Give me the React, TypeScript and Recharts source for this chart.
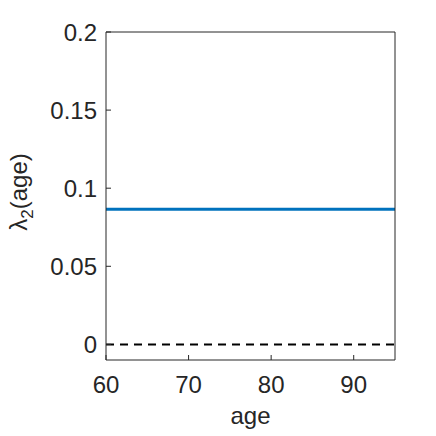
import React from "react";
import { LineChart, Line, XAxis, YAxis, Label } from "recharts";

const ages = [60, 95];
const lambda2 = [0.0865, 0.0865];
const zeroLine = [0, 0];

const xTicks = [60, 70, 80, 90];
const yTicks = [0, 0.05, 0.1, 0.15, 0.2];

const data = ages.map((age, i) => ({
  age,
  lambda2: lambda2[i],
  zero: zeroLine[i],
}));

const FONT = "'Liberation Sans', Arial, Helvetica, sans-serif";
const AXIS = "#262626";

const YLabel = (props: any) => {
  const vb = props.viewBox || {};
  const cx = 27;
  const cy = vb.y + vb.height / 2 - 4;
  return (
    <text
      x={cx}
      y={cy}
      transform={`rotate(-90, ${cx}, ${cy})`}
      textAnchor="middle"
      fontFamily={FONT}
      fontSize={24}
      fill={AXIS}
    >
      <tspan>λ</tspan>
      <tspan fontSize={17} dy={6}>2</tspan>
      <tspan dy={-6}>(age)</tspan>
    </text>
  );
};

const XLabel = (props: any) => {
  const vb = props.viewBox || {};
  return (
    <text
      x={vb.x + vb.width / 2}
      y={424}
      textAnchor="middle"
      fontFamily={FONT}
      fontSize={24}
      fill={AXIS}
    >
      age
    </text>
  );
};

export default function App() {
  const tickStyle = { fontSize: 24, fontFamily: FONT, fill: AXIS };
  return (
    <div style={{ position: "absolute", left: 0, top: 0, background: "#fff" }}>
      <LineChart
        width={436}
        height={436}
        data={data}
        margin={{ top: 31, right: 40, bottom: 36, left: 46 }}
      >
        <XAxis
          dataKey="age"
          type="number"
          domain={[60, 95]}
          ticks={xTicks}
          height={40}
          tickSize={-5}
          tickMargin={21}
          tick={tickStyle}
          stroke={AXIS}
          allowDataOverflow
        >
          <Label content={XLabel} />
        </XAxis>
        <XAxis
          xAxisId="top"
          orientation="top"
          dataKey="age"
          type="number"
          domain={[60, 95]}
          ticks={xTicks}
          height={1}
          tickSize={-5}
          tick={false}
          stroke={AXIS}
          allowDataOverflow
        />
        <YAxis
          type="number"
          domain={[-0.01, 0.2]}
          ticks={yTicks}
          width={60}
          tickSize={-5}
          tickMargin={14}
          tick={tickStyle}
          tickFormatter={(v: number) => String(v)}
          stroke={AXIS}
          allowDataOverflow
        >
          <Label content={YLabel} />
        </YAxis>
        <YAxis
          yAxisId="right"
          orientation="right"
          type="number"
          domain={[-0.01, 0.2]}
          ticks={yTicks}
          width={1}
          tickSize={-5}
          tick={false}
          stroke={AXIS}
          allowDataOverflow
        />
        <Line
          dataKey="zero"
          stroke="#000"
          strokeWidth={2}
          strokeDasharray="8 6"
          dot={false}
          isAnimationActive={false}
        />
        <Line
          dataKey="lambda2"
          stroke="#0072BD"
          strokeWidth={3}
          dot={false}
          isAnimationActive={false}
        />
      </LineChart>
    </div>
  );
}
